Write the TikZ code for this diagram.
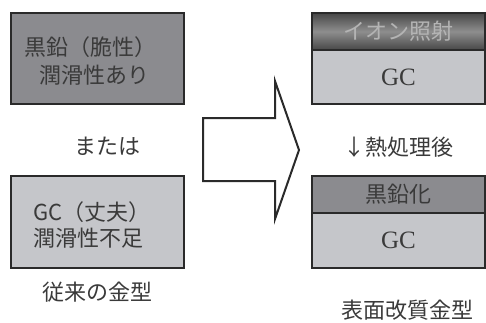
\documentclass[tikz,border=0pt]{standalone}
\usepackage{fontspec}
\newfontfamily\jp{Noto Sans CJK JP}
\newfontfamily\ser{Liberation Serif}
\definecolor{edge}{HTML}{2A2A2A}
\definecolor{darkfill}{HTML}{8B8B8F}
\definecolor{lightfill}{HTML}{C5C6CA}
\definecolor{ionedge}{HTML}{474747}
\definecolor{ionmid}{HTML}{8E8E8E}
\definecolor{txt}{HTML}{3A3A3A}
\definecolor{iontxt}{HTML}{B4B4B4}
\tikzset{
  box/.style={draw=edge, line width=2.2pt, inner sep=0pt, minimum width=173pt},
  lbl/.style={inner sep=0pt, text=txt, font=\jp\fontsize{22}{24}\selectfont},
  gclbl/.style={inner sep=0pt, text=txt, font=\ser\fontsize{25}{27}\selectfont},
}
\begin{document}
\begin{tikzpicture}[x=1pt,y=-1pt]
\useasboundingbox (0,0) rectangle (486,322);
% left boxes
\node[box, fill=darkfill, minimum height=91pt] (lt) at (97.5,58.5) {};
\node[box, fill=lightfill, minimum height=92pt] (lb) at (97.5,222) {};
\node[lbl] (lt1) at (90,47) {黒鉛（脆性）};
\node[lbl] (lt2) at (94,75) {潤滑性あり};
\node[lbl, anchor=west] (lb1) at (33,212) {GC（丈夫）};
\node[lbl, anchor=west] (lb2) at (33,238) {潤滑性不足};
\node[lbl] (or) at (107,146) {または};
\node[lbl] (conv) at (97,292) {従来の金型};
% big arrow
\draw[draw=edge, line width=2pt, fill=white, line join=miter]
  (203,118) -- (275,118) -- (275,81) -- (299,150) -- (275,219) -- (275,181) -- (203,181) -- cycle;
% right top
\node[box, top color=ionedge, bottom color=ionedge, middle color=ionmid, minimum height=37pt] (ion) at (398.5,31.5) {};
\node[box, fill=lightfill, minimum height=54pt] (gc1) at (398.5,77) {};
\node[lbl, text=iontxt] (iont) at (ion.center) {イオン照射};
\node[gclbl] (gct1) at (gc1.center) {GC};
\node[lbl] (heat) at (398,147) {↓熱処理後};
% right bottom
\node[box, fill=darkfill, minimum height=37pt] (gr) at (398.5,194.5) {};
\node[box, fill=lightfill, minimum height=55pt] (gc2) at (398.5,240.5) {};
\node[lbl] (grt) at (gr.center) {黒鉛化};
\node[gclbl] (gct2) at (gc2.center) {GC};
\node[lbl] (mod) at (407,310) {表面改質金型};
\end{tikzpicture}
\end{document}
